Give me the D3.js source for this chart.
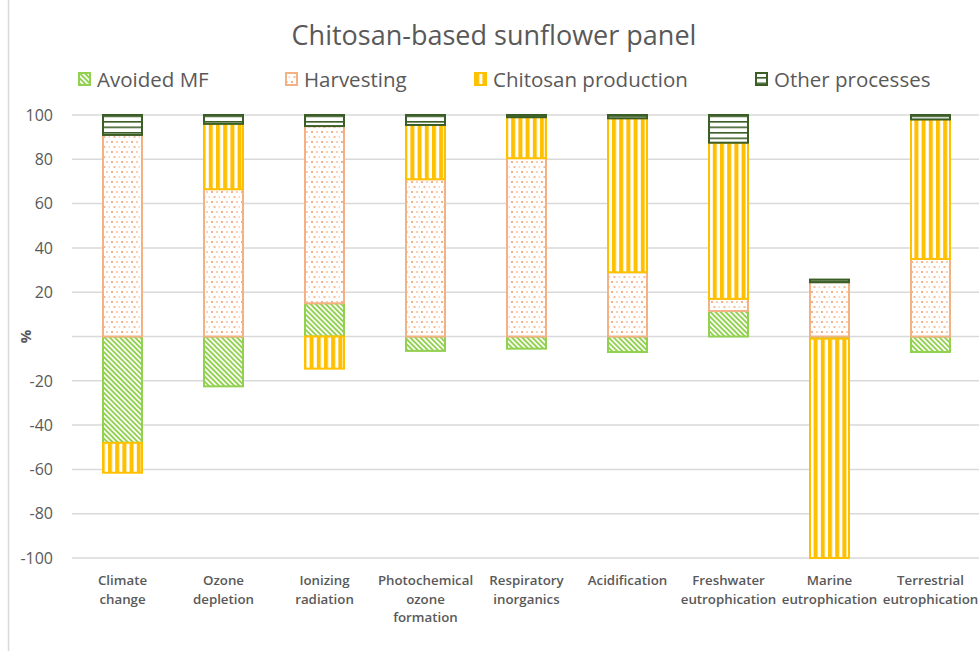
<!DOCTYPE html>
<html>
<head>
<meta charset="utf-8">
<script src="https://cdn.jsdelivr.net/npm/d3@7"></script>
<style>
  html, body { margin: 0; padding: 0; background: #fff; }
  svg { display: block; }
  text { font-family: "Open Sans", Lato, sans-serif; }
</style>
</head>
<body>
<svg id="chart" width="979" height="651"></svg>
<script>
// Impact categories (x axis)
const categories = [
  "Climate change", "Ozone depletion", "Ionizing radiation",
  "Photochemical ozone formation", "Respiratory inorganics", "Acidification",
  "Freshwater eutrophication", "Marine eutrophication", "Terrestrial eutrophication"
];
// Wrapped tick labels for each category
const categoryLines = [
  ["Climate", "change"], ["Ozone", "depletion"], ["Ionizing", "radiation"],
  ["Photochemical", "ozone", "formation"], ["Respiratory", "inorganics"], ["Acidification"],
  ["Freshwater", "eutrophication"], ["Marine", "eutrophication"], ["Terrestrial", "eutrophication"]
];

// Contribution (%) of each process per category
const avoidedMF   = [-48,  -22.5, 15,   -6.5, -5.5, -7,   11.5, -1,   -7];
const harvesting  = [ 91,   66.5, 80,   71,   80.5, 29,    5.5, 24.5, 35];
const chitosan    = [-13.5, 29.5, -14.5, 24.5, 18.5, 69.5, 70.5, -99,  63];
const otherProc   = [  9,    4,    5,    4.5,  1,    1.5, 12.5,  1.2,  2];

const seriesNames = ["Avoided MF", "Harvesting", "Chitosan production", "Other processes"];
const yTicks = [100, 80, 60, 40, 20, 0, -20, -40, -60, -80, -100];

const rows = categories.map((c, i) => ({
  category: c,
  "Avoided MF": avoidedMF[i],
  "Harvesting": harvesting[i],
  "Chitosan production": chitosan[i],
  "Other processes": otherProc[i]
}));

const svg = d3.select("#chart");
const W = 979, H = 651;
const plot = { left: 72, right: 981, top: 115, bottom: 558 };

const colors = {
  "Avoided MF": "#92D050",
  "Harvesting": "#F4B183",
  "Chitosan production": "#FFC000",
  "Other processes": "#3B5E26"
};

// Fill patterns for each process
const defs = svg.append("defs");
// narrow diagonal stripes
const pA = defs.append("pattern").attr("id", "pat0").attr("patternUnits", "userSpaceOnUse")
  .attr("width", 3.6).attr("height", 6).attr("patternTransform", "rotate(-45)");
pA.append("rect").attr("width", 3.6).attr("height", 6).attr("fill", "#fff");
pA.append("rect").attr("width", 1.9).attr("height", 6).attr("fill", colors["Avoided MF"]);
// dotted grid
const pB = defs.append("pattern").attr("id", "pat1").attr("patternUnits", "userSpaceOnUse")
  .attr("width", 10).attr("height", 10);
pB.append("rect").attr("width", 10).attr("height", 10).attr("fill", "#fff");
[[1, 1, 1], [6, 1, 0.6], [3.5, 6, 0.85], [8.5, 6, 0.5]].forEach(([dx, dy, o]) => {
  pB.append("rect").attr("x", dx).attr("y", dy).attr("width", 2).attr("height", 2)
    .attr("fill", colors["Harvesting"]).attr("opacity", o);
});
// vertical stripes
const pC = defs.append("pattern").attr("id", "pat2").attr("patternUnits", "userSpaceOnUse")
  .attr("width", 7.2).attr("height", 10);
pC.append("rect").attr("width", 7.2).attr("height", 10).attr("fill", "#fff");
pC.append("rect").attr("width", 4).attr("height", 10).attr("fill", colors["Chitosan production"]);
// horizontal lines
const pD = defs.append("pattern").attr("id", "pat3").attr("patternUnits", "userSpaceOnUse")
  .attr("width", 10).attr("height", 5.5);
pD.append("rect").attr("width", 10).attr("height", 5.5).attr("fill", "#fff");
pD.append("rect").attr("y", 0).attr("width", 10).attr("height", 1.6).attr("fill", colors["Other processes"]);

// chart frame (left edge)
svg.append("line").attr("x1", 8.5).attr("x2", 8.5).attr("y1", 0).attr("y2", H)
  .attr("stroke", "#d9d9d9").attr("stroke-width", 1.5);

const x = d3.scaleBand().domain(categories).range([plot.left, plot.right]).paddingInner(0.594).paddingOuter(0.297);
const y = d3.scaleLinear().domain([-100, 100]).range([plot.bottom, plot.top]);

// gridlines
svg.append("g").selectAll("line").data(yTicks).join("line")
  .attr("x1", plot.left).attr("x2", W)
  .attr("y1", d => y(d)).attr("y2", d => y(d))
  .attr("stroke", "#d9d9d9").attr("stroke-width", 1.5);

// y tick labels
svg.append("g").selectAll("text").data(yTicks.filter(d => d !== 0)).join("text")
  .attr("x", 53).attr("y", d => y(d)).attr("dy", "0.36em")
  .attr("text-anchor", "end").attr("font-size", 16).attr("fill", "#595959")
  .text(d => d);

// y axis title
svg.append("text").attr("transform", `translate(31,${y(0)}) rotate(-90)`)
  .attr("text-anchor", "middle").attr("font-size", 15).attr("font-weight", "bold")
  .attr("fill", "#595959").text("%");

// stacked bars
const stack = d3.stack().keys(seriesNames).offset(d3.stackOffsetDiverging);
const layers = stack(rows);
layers.forEach((layer, li) => {
  svg.append("g").selectAll("rect").data(layer).join("rect")
    .attr("x", d => x(d.data.category) + 1)
    .attr("width", x.bandwidth() - 2)
    .attr("y", d => y(Math.max(d[0], d[1])))
    .attr("height", d => Math.abs(y(d[0]) - y(d[1])))
    .attr("fill", `url(#pat${li})`)
    .attr("stroke", colors[seriesNames[li]])
    .attr("stroke-width", 2);
});

// x tick labels
const xl = svg.append("g");
categories.forEach((c, i) => {
  const t = xl.append("text").attr("x", x(c) + x.bandwidth() / 2).attr("y", 585)
    .attr("text-anchor", "middle").attr("font-size", 13.3).attr("font-weight", 600)
    .attr("fill", "#595959");
  categoryLines[i].forEach((ln, k) => {
    t.append("tspan").attr("x", x(c) + x.bandwidth() / 2).attr("dy", k === 0 ? 0 : 18.5).text(ln);
  });
});

// title
svg.append("text").attr("x", 494).attr("y", 45).attr("text-anchor", "middle")
  .attr("font-size", 27).attr("fill", "#595959").text("Chitosan-based sunflower panel");

// legend
const legendX = [78, 285, 474, 755];
const lg = svg.append("g");
seriesNames.forEach((s, i) => {
  lg.append("rect").attr("x", legendX[i] + 1).attr("y", 73).attr("width", 11).attr("height", 12)
    .attr("fill", `url(#pat${i})`).attr("stroke", colors[s]).attr("stroke-width", 2);
  lg.append("text").attr("x", legendX[i] + 19).attr("y", 80).attr("dy", "0.36em")
    .attr("font-size", 20.5).attr("fill", "#595959").text(s);
});
</script>
</body>
</html>
